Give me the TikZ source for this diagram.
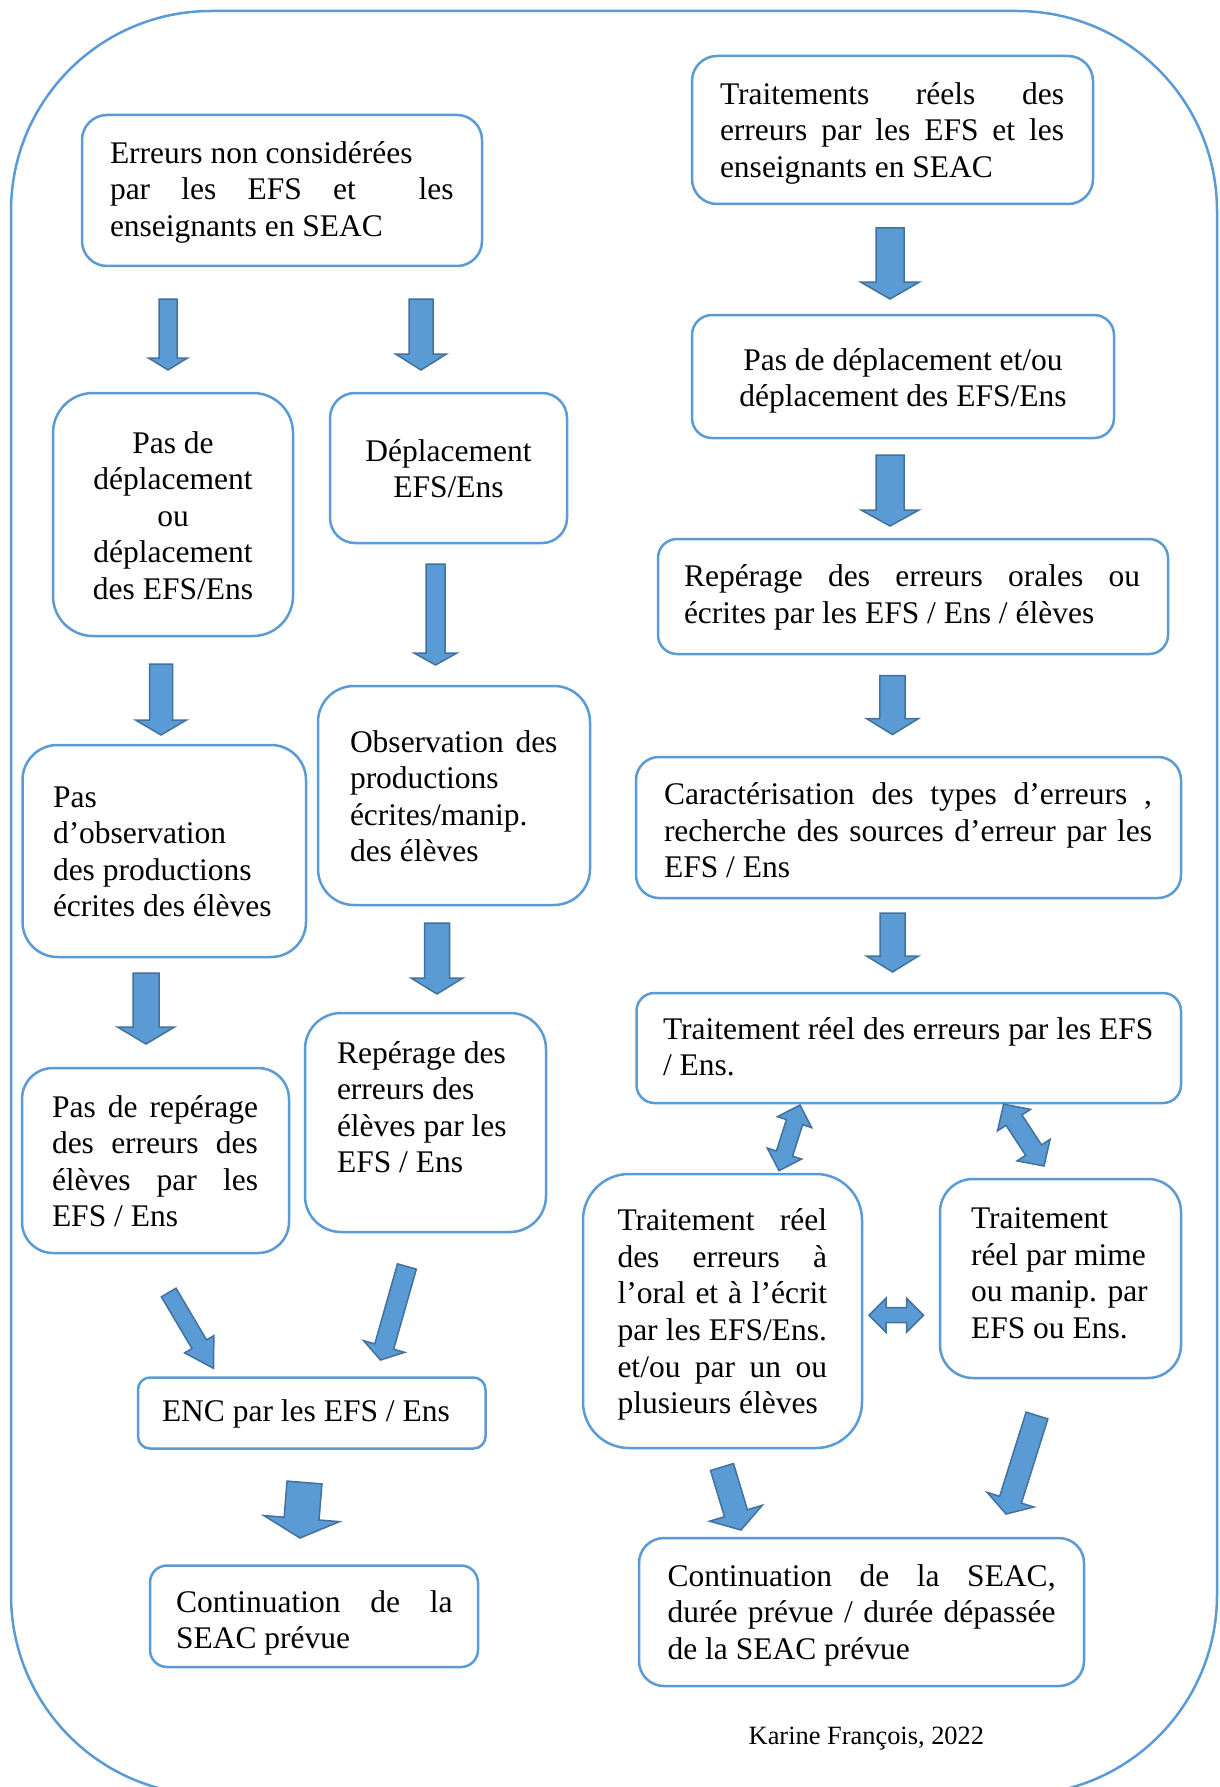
\documentclass[tikz,border=0pt]{standalone}
\usepackage{fontspec}
\setmainfont{Liberation Serif}
\usetikzlibrary{calc}
\definecolor{bx}{HTML}{5B9BD5}
\definecolor{bxd}{HTML}{41719C}
\tikzset{
  frame/.style={draw=bx, line width=2.5pt},
  box/.style={draw=bx, line width=2.5pt, fill=white, inner sep=0pt, rectangle},
  txt/.style={inner sep=0pt, outer sep=0pt, font=\fontsize{31.5}{36.6}\selectfont},
  barrow/.style={fill=bx, draw=bxd, line width=1.5pt, line join=miter},
}
\newcommand{\st}{\spaceskip=0pt\relax\xspaceskip=0pt\relax\strut}
\newcommand{\jl}[2]{\makebox[#1pt][s]{\spaceskip=0pt\relax\xspaceskip=0pt\relax #2}}
\newcommand{\boxnode}[6]{%
  \node[box, rounded corners=#6pt, minimum width={#4-#2}, minimum height={#5-#3}]
    (#1) at ({(#2+#4)/2},{(#3+#5)/2}) {};}
\newcommand{\sarrow}[5]{%
  \coordinate (hh) at ($(#2)!#5pt!(#1)$);
  \draw[barrow] ($(#1)!#3pt!90:(#2)$) -- ($(hh)!#3pt!90:(#2)$) -- ($(hh)!#4pt!90:(#2)$)
    -- (#2) -- ($(hh)!#4pt!-90:(#2)$) -- ($(hh)!#3pt!-90:(#2)$) -- ($(#1)!#3pt!-90:(#2)$) -- cycle;}
\newcommand{\darrow}[5]{%
  \coordinate (ha) at ($(#1)!#5pt!(#2)$);
  \coordinate (hb) at ($(#2)!#5pt!(#1)$);
  \draw[barrow] (#1) -- ($(ha)!#4pt!90:(#2)$) -- ($(ha)!#3pt!90:(#2)$) -- ($(hb)!#3pt!-90:(#1)$)
    -- ($(hb)!#4pt!-90:(#1)$) -- (#2) -- ($(hb)!#4pt!90:(#1)$) -- ($(hb)!#3pt!90:(#1)$)
    -- ($(ha)!#3pt!-90:(#2)$) -- ($(ha)!#4pt!-90:(#2)$) -- cycle;}
\begin{document}
\begin{tikzpicture}[x=1pt, y=-1pt]
\useasboundingbox (0,0) rectangle (1219,1787);
\fill[white] (0,0) rectangle (1219,1787);
\draw[frame, rounded corners=200pt] (11,11) rectangle (1217,1795);

% boxes
\boxnode{b1}{82}{115}{482}{266}{25}
\boxnode{b2}{53}{393}{293}{636}{40}
\boxnode{b3}{330}{393}{567}{543}{25}
\boxnode{b4}{22.5}{745}{306}{957}{35}
\boxnode{b5}{318}{686}{590}{905}{36}
\boxnode{b6}{22}{1068}{289}{1253}{31}
\boxnode{b7}{305}{1013}{546}{1232}{36}
\boxnode{b8}{138}{1377.5}{485.5}{1448.5}{12}
\boxnode{b9}{150}{1565.5}{478}{1667}{17}
\boxnode{r1}{692}{56}{1093}{204}{25}
\boxnode{r2}{692}{315}{1114}{438}{20}
\boxnode{r3}{658}{539}{1168}{654}{19}
\boxnode{r4}{636}{757}{1181}{898}{23}
\boxnode{r5}{636.5}{993}{1181}{1103}{18}
\boxnode{r6}{583}{1174}{862}{1448}{46}
\boxnode{r7}{940}{1179}{1181}{1378}{33}
\boxnode{r8}{639}{1538}{1084}{1686}{25}

% texts
\node[txt, anchor=north west, text width=343.5pt, align=left] (t1) at (110,137.4)
  {\st Erreurs non considérées\\\jl{343.5}{par les EFS et\ \ les}\\enseignants en SEAC};
\node[txt, anchor=north, align=center] (t2) at (173,427.4)
  {\st Pas de\\déplacement\\ou\\déplacement\\des EFS/Ens};
\node[txt, anchor=north, align=center] (t3) at (448.5,435.4)
  {\st Déplacement\\EFS/Ens};
\node[txt, anchor=north west, align=left] (t4) at (53,781.4)
  {\st Pas\\d’observation\\des productions\\écrites des élèves};
\node[txt, anchor=north west, text width=207.5pt, align=left] (t5) at (350,726.4)
  {\st\jl{207.5}{Observation des}\\productions\\écrites/manip.\\des élèves};
\node[txt, anchor=north west, text width=206pt, align=left] (t6) at (52,1091.4)
  {\st\jl{206}{Pas de repérage}\\\jl{206}{des erreurs des}\\\jl{206}{élèves par les}\\EFS / Ens};
\node[txt, anchor=north west, align=left] (t7) at (337,1037.4)
  {\st Repérage des\\erreurs des\\élèves par les\\EFS / Ens};
\node[txt, anchor=north west, align=left] (t8) at (162,1395.9)
  {\st ENC par les EFS / Ens};
\node[txt, anchor=north west, text width=276.7pt, align=left] (t9) at (176,1586.4)
  {\st\jl{276.7}{Continuation de la}\\SEAC prévue};
\node[txt, anchor=north west, text width=344pt, align=left] (u1) at (720,78.4)
  {\st\jl{344}{Traitements réels des}\\\jl{344}{erreurs par les EFS et les}\\enseignants en SEAC};
\node[txt, anchor=north, align=center] (u2) at (903,344.4)
  {\st Pas de déplacement et/ou\\déplacement des EFS/Ens};
\node[txt, anchor=north west, text width=456pt, align=left] (u3) at (684,560.9)
  {\st\jl{456}{Repérage des erreurs orales ou}\\écrites par les EFS / Ens / élèves};
\node[txt, anchor=north west, text width=488pt, align=left] (u4) at (664,779)
  {\st\jl{488}{Caractérisation des types d’erreurs ,}\\\jl{488}{recherche des sources d’erreur par les}\\EFS / Ens};
\node[txt, anchor=north west, text width=530pt, align=left] (u5) at (663,1013.4)
  {\st Traitement réel des erreurs par les EFS\\/ Ens.};
\node[txt, anchor=north west, text width=209.5pt, align=left] (u6) at (617.5,1205)
  {\st\jl{209.5}{Traitement réel}\\\jl{209.5}{des erreurs à}\\\jl{209.5}{l’oral et à l’écrit}\\\jl{209.5}{par les EFS/Ens.}\\\jl{209.5}{et/ou par un ou}\\plusieurs élèves};
\node[txt, anchor=north west, align=left] (u7) at (971,1202.8)
  {\st Traitement\\réel par mime\\ou manip. par\\EFS ou Ens.};
\node[txt, anchor=north west, text width=388pt, align=left] (u8) at (667.6,1560.4)
  {\st\jl{388}{Continuation de la SEAC,}\\\jl{388}{durée prévue / durée dépassée}\\de la SEAC prévue};
\node[inner sep=0pt, anchor=base west, font=\fontsize{26.4}{30}\selectfont] (credit) at (748.5,1744)
  {Karine François, 2022};

% arrow end points
\coordinate (a1t) at (168,299);   \coordinate (a1h) at (168,370);
\coordinate (a2t) at (421,299);   \coordinate (a2h) at (421,370);
\coordinate (a3t) at (161,664);   \coordinate (a3h) at (161,735);
\coordinate (a4t) at (435.5,564); \coordinate (a4h) at (435.5,665);
\coordinate (a5t) at (146,973);   \coordinate (a5h) at (146,1044);
\coordinate (a6t) at (437,923);   \coordinate (a6h) at (437,994);
\coordinate (a7t) at (168.7,1292.5); \coordinate (a7h) at (213.5,1368.3);
\coordinate (a8t) at (406.9,1266.5); \coordinate (a8h) at (380.4,1360);
\coordinate (a9t) at (304.5,1482.5); \coordinate (a9h) at (300,1538);
\coordinate (c1t) at (890,228);   \coordinate (c1h) at (890,299);
\coordinate (c2t) at (890,455);   \coordinate (c2h) at (890,526);
\coordinate (c3t) at (892.5,675.6); \coordinate (c3h) at (892.5,734.6);
\coordinate (c4t) at (892.5,913); \coordinate (c4h) at (892.5,972);
\coordinate (c5t) at (722,1467);  \coordinate (c5h) at (741,1530);
\coordinate (c6t) at (1037,1415.5); \coordinate (c6h) at (1006,1514);
\coordinate (d1a) at (800,1105);  \coordinate (d1b) at (779,1170.7);
\coordinate (d2a) at (1003.6,1104.2); \coordinate (d2b) at (1044,1166);
\coordinate (d3a) at (869,1315.2); \coordinate (d3b) at (923.5,1315.2);

\sarrow{a1t}{a1h}{9}{19.5}{12}
\sarrow{a2t}{a2h}{12}{25.5}{16}
\sarrow{a3t}{a3h}{11.5}{25.5}{15}
\sarrow{a4t}{a4h}{9.5}{21.5}{12}
\sarrow{a5t}{a5h}{13}{28.5}{17}
\sarrow{a6t}{a6h}{12.5}{26}{16}
\sarrow{a7t}{a7h}{8.5}{17}{28}
\sarrow{a8t}{a8h}{9.8}{21.3}{14}
\sarrow{a9t}{a9h}{17.5}{38}{19.5}
\sarrow{c1t}{c1h}{14}{29.5}{17}
\sarrow{c2t}{c2h}{14}{29}{16}
\sarrow{c3t}{c3h}{12.7}{26}{16}
\sarrow{c4t}{c4h}{12.5}{26}{16}
\sarrow{c5t}{c5h}{12}{27.5}{17.5}
\sarrow{c6t}{c6h}{11.4}{24.5}{15}
\darrow{d1a}{d1b}{8.5}{18}{18}
\darrow{d2a}{d2b}{9.5}{19.7}{19}
\darrow{d3a}{d3b}{7.5}{17}{17}
\end{tikzpicture}
\end{document}
